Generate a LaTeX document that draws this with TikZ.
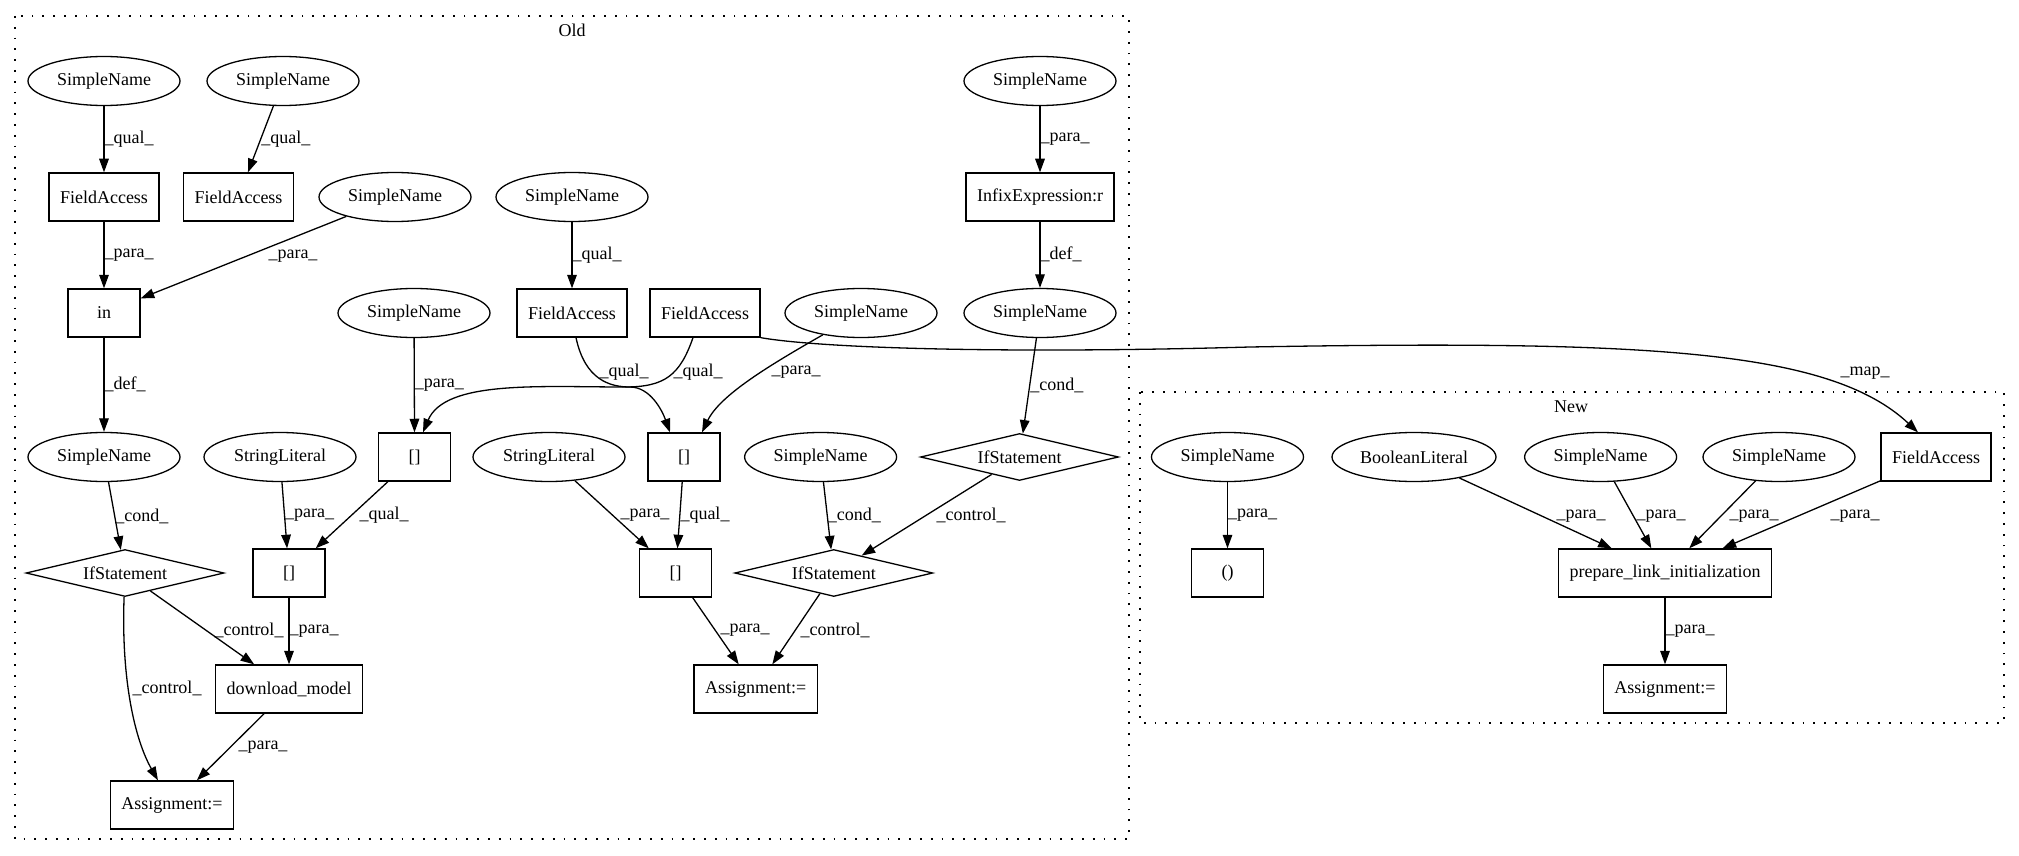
\documentclass[tikz,border=0pt]{standalone}
\usepackage{fontspec}
\setmainfont{Liberation Serif}
\usetikzlibrary{calc, positioning, shapes.geometric, arrows.meta}

\tikzset{
  leaf/.style={draw, ellipse, minimum width=76pt, minimum height=24.5pt, inner xsep=2pt, inner ysep=0pt},
  op/.style={draw, rectangle, minimum width=36pt, minimum height=24pt, inner xsep=5.5pt, inner ysep=0pt},
  branch/.style={draw, diamond, aspect=4.2, minimum width=99pt, minimum height=23.5pt, inner sep=0pt},
  lab/.style={inner sep=0pt},
  cluster/.style={draw, -, dash pattern=on 0.9pt off 4.5pt}
}

\begin{document}
\begin{tikzpicture}[->, >={Triangle[length=6.8pt,width=4.8pt]}, line width=0.65pt,
    x=0.5pt, y=-0.5pt, node distance=58pt, font=\fontsize{9}{11}\selectfont]
        \useasboundingbox (0,0) rectangle (2019,856);

        % Old
        \draw[cluster] (15,16) rectangle (1129,839);
        \node (old) at (572,30) {Old};

        \node[leaf] (sA) at (104,81) {SimpleName};
        \node[op] (fA) [below of=sA] {FieldAccess};
        \node[op] (in) [below of=fA] {in};
        \node[leaf] (sB) at (283,81) {SimpleName};
        \node[op] (fB) at (238.5,197) {FieldAccess};
        \node[leaf] (sC) at (395,197) {SimpleName};
        \node[leaf] (sD) at (572,197) {SimpleName};
        \node[op] (fC) [below of=sD] {FieldAccess};
        \node[leaf] (sE) at (414,313) {SimpleName};
        \node[op] (fD) at (705,313) {FieldAccess};
        \node[leaf] (sF) at (861,313) {SimpleName};
        \node[leaf] (sG) at (1040,81) {SimpleName};
        \node[op] (ix) [below of=sG] {InfixExpression:r};
        \node[leaf] (sH) [below of=ix] {SimpleName};

        \node[leaf] (sI) at (104,457) {SimpleName};
        \node[leaf] (lA) at (280,457) {StringLiteral};
        \node[op] (xA) at (414.6,457) {[]};
        \node[leaf] (lB) at (549,457) {StringLiteral};
        \node[op] (xB) at (684,457) {[]};
        \node[leaf] (sJ) at (820.6,457) {SimpleName};
        \node[branch] (iA) at (1019.5,457) {IfStatement};
        \node[branch] (iB) at (125,573) {IfStatement};
        \node[op] (xC) at (289,573) {[]};
        \node[op] (xD) at (675.7,573) {[]};
        \node[branch] (iC) at (833.8,573) {IfStatement};
        \node[op] (dl) [below of=xC] {download\_model};
        \node[op] (aA) at (172,805) {Assignment:=};
        \node[op] (aB) at (755.7,689) {Assignment:=};

        \draw (sA) -- node[lab, right] {\_qual\_} (fA);
        \draw (sB) -- node[lab, right] {\_qual\_} (fB);
        \draw (fA) -- node[lab, right] {\_para\_} (in);
        \draw (sC) -- (in) node[lab] at (293,256) {\_para\_};
        \draw (sD) -- node[lab, right] {\_qual\_} (fC);
        \draw (in) -- node[lab, right] {\_def\_} (sI);
        \draw (sE) -- node[lab, right] {\_para\_} (xA);
        \draw ([xshift=2pt]fC.south) .. controls (585,380) and (610,387) .. (630,387)
            .. controls (650,387) and (662,410) .. ([xshift=-7pt]xB.north)
            node[lab] at (624,372) {\_qual\_};
        \draw ([xshift=-6pt]fD.south) .. controls (680,375) and (665,387) .. (625,387)
            .. controls (540,387) and (445,380) .. ([xshift=4.2pt]xA.north)
            node[lab] at (698,372) {\_qual\_};
        \draw (sF) .. controls (770,365) and (720,395) .. ([xshift=9pt]xB.north)
            node[lab] at (796,372) {\_para\_};
        \draw (sG) -- node[lab, right] {\_para\_} (ix);
        \draw (ix) -- node[lab, right] {\_def\_} (sH);
        \draw (sH) -- node[lab, right] {\_cond\_} (iA);
        \draw (iA) -- (iC) node[lab] at (971,515) {\_control\_};
        \draw (sJ) -- node[lab, right] {\_cond\_} (iC);
        \draw (xB) -- node[lab, right] {\_qual\_} (xD);
        \draw (lB) -- (xD) node[lab] at (645,515) {\_para\_};
        \draw (xD) -- (aB) node[lab] at (745,630) {\_para\_};
        \draw (iC) -- (aB) node[lab] at (835,630) {\_control\_};
        \draw (sI) -- node[lab, right] {\_cond\_} (iB);
        \draw (xA) -- (xC) node[lab] at (384,515) {\_qual\_};
        \draw (lA) -- node[lab, right] {\_para\_} (xC);
        \draw (xC) -- node[lab, right] {\_para\_} (dl);
        \draw (iB) -- (dl) node[lab] at (249,630) {\_control\_};
        \draw (iB) .. controls (121,680) and (135,740) .. (aA) node[lab] at (167,688) {\_control\_};
        \draw (dl) -- (aA) node[lab] at (263,747) {\_para\_};

        % New
        \draw[cluster] (1140,392) rectangle (2004,723);
        \node (new) at (1571,407) {New};

        \node[leaf] (nA) at (1227.5,457) {SimpleName};
        \node[op] (pr) [below of=nA] {()};
        \node[leaf] (bl) at (1414,457) {BooleanLiteral};
        \node[leaf] (nB) at (1600.6,457) {SimpleName};
        \node[leaf] (nC) at (1779,457) {SimpleName};
        \node[op] (fE) at (1936,457) {FieldAccess};
        \node[op] (pl) at (1665,573) {prepare\_link\_initialization};
        \node[op] (aC) [below of=pl] {Assignment:=};

        \draw (nA) -- node[lab, right] {\_para\_} (pr);
        \draw (bl) -- (pl) node[lab] at (1581,516) {\_para\_};
        \draw (nB) -- (pl) node[lab] at (1661,516) {\_para\_};
        \draw (nC) -- (pl) node[lab] at (1754,516) {\_para\_};
        \draw (fE) -- (pl) node[lab] at (1855,516) {\_para\_};
        \draw (pl) -- node[lab, right] {\_para\_} (aC);

        % map
        \draw (fD.south east) .. controls (820,348) and (1000,354) .. (1250,347)
            .. controls (1650,340) and (1830,350) .. ([xshift=-9pt]fE.north)
            node[lab] at (1865,373) {\_map\_};

        \end{tikzpicture}
\end{document}
